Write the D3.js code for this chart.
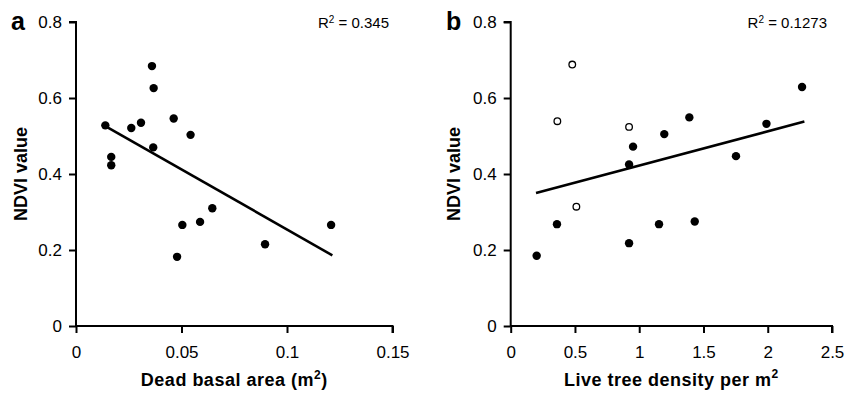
<!DOCTYPE html>
<html><head><meta charset="utf-8">
<script src="https://cdn.jsdelivr.net/npm/d3@7"></script>
<style>
html,body{margin:0;padding:0;background:#fff;}
text{font-family:"Liberation Sans",Arial,sans-serif;fill:#000;}
</style></head>
<body><svg id="c" width="846" height="395"></svg>
<script>
// Panel a: dead basal area vs NDVI
const deadBasal = [0.0139,0.0167,0.0167,0.0262,0.0308,0.0360,0.0368,0.0366,0.0463,0.0543,0.0479,0.0504,0.0588,0.0646,0.0896,0.1209];
const ndviA     = [0.528, 0.445, 0.423, 0.521, 0.535, 0.684, 0.626, 0.470, 0.546, 0.503, 0.182, 0.266, 0.274, 0.310, 0.215, 0.266];
const fitA_x = [0.0139, 0.1215];
const fitA_y = [0.526, 0.186];
// Panel b: live tree density vs NDVI (open = excluded points)
const liveDensity = [0.479,0.363,0.921,0.511, 0.952,0.921,1.195,1.390,1.753,1.990,2.267,0.360,0.202,0.921,1.154,1.432];
const ndviB       = [0.688,0.539,0.524,0.314, 0.472,0.425,0.505,0.549,0.447,0.532,0.629,0.268,0.185,0.218,0.268,0.275];
const openB       = [true,true,true,true, false,false,false,false,false,false,false,false,false,false,false,false];
const fitB_x = [0.197, 2.285];
const fitB_y = [0.350, 0.538];
const yTicks = [0,0.2,0.4,0.6,0.8];
const xTicksA = [0,0.05,0.1,0.15];
const xTicksB = [0,0.5,1,1.5,2,2.5];

const svg = d3.select("#c");

function panel(o){
  const g = svg.append("g");
  const x = d3.scaleLinear().domain(o.xd).range([o.x0,o.x1]);
  const y = d3.scaleLinear().domain([0,0.8]).range([326,22]);
  const ya = g.append("g").attr("transform",`translate(${o.x0},0)`)
    .call(d3.axisLeft(y).tickValues(yTicks).tickFormat(d=>d===0?"0":d3.format(".1f")(d)).tickSize(7).tickPadding(7));
  const xa = g.append("g").attr("transform",`translate(0,326)`)
    .call(d3.axisBottom(x).tickValues(o.xt).tickFormat(o.fmt).tickSize(7).tickPadding(13));
  [ya,xa].forEach(a=>{
    a.select(".domain").attr("stroke","#000").attr("stroke-width",2).attr("d", null);
    a.selectAll(".tick line").attr("stroke","#000").attr("stroke-width",2);
    a.selectAll(".tick text").style("font-size","17px").style("font-family",'"Liberation Sans",Arial,sans-serif').attr("fill","#000");
  });
  ya.select(".domain").attr("d",`M${-7},${y(0.8)}H0V${y(0)}`);
  xa.select(".domain").attr("d",`M${o.x0},0H${o.x1}V7`);
  // regression line
  g.append("line").attr("x1",x(o.fx[0])).attr("y1",y(o.fy[0])).attr("x2",x(o.fx[1])).attr("y2",y(o.fy[1]))
    .attr("stroke","#000").attr("stroke-width",2.6);
  // points
  o.xs.forEach((v,i)=>{
    const open = o.open && o.open[i];
    g.append("circle").attr("cx",x(v)).attr("cy",y(o.ys[i])).attr("r",open?3.3:4.2)
      .attr("fill",open?"#fff":"#000").attr("stroke","#000").attr("stroke-width",open?1.3:0);
  });
  // panel letter
  g.append("text").attr("x",o.lx).attr("y",30).style("font-size","25px").style("font-weight","bold").text(o.letter);
  // R2
  const r = g.append("text").attr("x",o.rx).attr("y",28).attr("text-anchor","end").style("font-size","15px");
  r.append("tspan").text("R");
  r.append("tspan").attr("dy",-5).style("font-size","10px").text("2");
  r.append("tspan").attr("dy",5).text(" = "+o.r2);
  // y title
  g.append("text").attr("transform",`translate(${o.ytx},174) rotate(-90)`).attr("text-anchor","middle")
    .style("font-size","18px").style("font-weight","bold").text("NDVI value");
  // x title
  const t = g.append("text").attr("x",(o.x0+o.x1)/2).attr("y",386).attr("text-anchor","middle")
    .style("font-size","18px").style("font-weight","bold").style("letter-spacing","0.5px");
  o.xtitle(t);
}

panel({x0:76,x1:392.5,xd:[0,0.15],xt:xTicksA,fmt:d=>d===0?"0":String(d),
  xs:deadBasal,ys:ndviA,fx:fitA_x,fy:fitA_y,letter:"a",lx:11,rx:389,r2:"0.345",ytx:27,
  xtitle:t=>{t.append("tspan").text("Dead basal area (m");t.append("tspan").attr("dy",-7).style("font-size","12px").text("2");t.append("tspan").attr("dy",7).text(")");}});
panel({x0:510.7,x1:832,xd:[0,2.5],xt:xTicksB,fmt:d=>String(d),
  xs:liveDensity,ys:ndviB,open:openB,fx:fitB_x,fy:fitB_y,letter:"b",lx:446,rx:827,r2:"0.1273",ytx:460,
  xtitle:t=>{t.append("tspan").text("Live tree density per m");t.append("tspan").attr("dy",-8).style("font-size","12px").text("2");}});
</script></body></html>
